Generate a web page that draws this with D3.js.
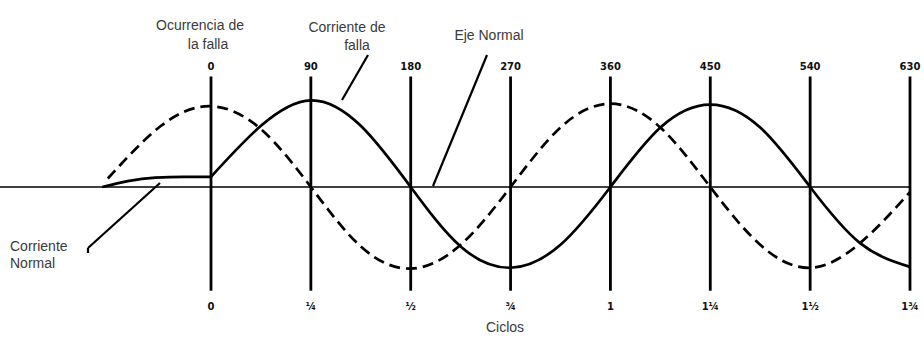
<!DOCTYPE html>
<html>
<head>
<meta charset="utf-8">
<script src="https://cdn.jsdelivr.net/npm/d3@7"></script>
<style>
  html, body { margin: 0; padding: 0; background: #fff; }
  svg { display: block; }
  .note { font-family: 'Liberation Sans', Arial, sans-serif; font-size: 14px; fill: #3a3a3a; }
  .tick { font-family: 'DejaVu Sans', sans-serif; font-size: 10px; font-weight: bold; fill: #111; }
</style>
</head>
<body>
<div id="chart"></div>
<script>
// electrical degrees at each vertical line, and the cycle count under it
const angleTicks = [0, 90, 180, 270, 360, 450, 540, 630]
const cycleLabels = ['0', '¼', '½', '¾', '1', '1¼', '1½', '1¾']

// fault current (solid), every 45°
const faultAngles = [0, 45, 90, 135, 180, 225, 270, 315, 360, 405, 450, 495, 540, 585, 630]
const faultCurrent = [0.12, 0.72, 1.02, 0.72, 0, -0.7, -0.95, -0.68, 0, 0.7, 0.97, 0.7, 0, -0.66, -0.94]

// dashed wave, a quarter cycle ahead
const dashAngles = [-93, -45, 0, 45, 90, 135, 180, 225, 270, 315, 360, 405, 450, 495, 540, 585, 630]
const dashWave = [0.1, 0.72, 0.95, 0.68, 0, -0.7, -0.96, -0.68, 0, 0.7, 0.98, 0.7, 0, -0.68, -0.95, -0.66, -0.06]

// normal current before the fault
const normalAngles = [-98, -75, -50, -25, 0]
const normalCurrent = [0, 0.07, 0.11, 0.12, 0.12]

const width = 924
const height = 337

const x = d3.scaleLinear().domain([0, 630]).range([211, 910])
const y = d3.scaleLinear().domain([-1, 1]).range([272, 102])

const svg = d3.select('#chart').append('svg')
  .attr('width', width)
  .attr('height', height)
  .attr('viewBox', `0 0 ${width} ${height}`)

// vertical lines at each quarter cycle
svg.append('g').selectAll('line')
  .data(angleTicks)
  .join('line')
  .attr('x1', (d) => x(d)).attr('x2', (d) => x(d))
  .attr('y1', y(1.3)).attr('y2', y(-1.22))
  .attr('stroke', '#000')
  .attr('stroke-width', 2.8)

svg.append('g').selectAll('text')
  .data(angleTicks)
  .join('text')
  .attr('class', 'tick')
  .attr('x', (d) => x(d))
  .attr('y', 70)
  .attr('text-anchor', 'middle')
  .text((d) => d)

svg.append('g').selectAll('text')
  .data(angleTicks)
  .join('text')
  .attr('class', 'tick')
  .attr('x', (d) => x(d))
  .attr('y', 310)
  .attr('text-anchor', 'middle')
  .text((d, i) => cycleLabels[i])

// normal axis
svg.append('line')
  .attr('x1', x(-195)).attr('x2', x(630))
  .attr('y1', y(0)).attr('y2', y(0))
  .attr('stroke', '#000')
  .attr('stroke-width', 1.7)

const line = d3.line()
  .x((d) => x(d[0]))
  .y((d) => y(d[1]))

svg.append('path')
  .datum(d3.zip(dashAngles, dashWave))
  .attr('d', line.curve(d3.curveNatural))
  .attr('fill', 'none')
  .attr('stroke', '#000')
  .attr('stroke-width', 2.7)
  .attr('stroke-dasharray', '11 6')

svg.append('path')
  .datum(d3.zip(normalAngles, normalCurrent))
  .attr('d', line.curve(d3.curveMonotoneX))
  .attr('fill', 'none')
  .attr('stroke', '#000')
  .attr('stroke-width', 2.7)

svg.append('path')
  .datum(d3.zip(faultAngles, faultCurrent))
  .attr('d', line.curve(d3.curveNatural))
  .attr('fill', 'none')
  .attr('stroke', '#000')
  .attr('stroke-width', 2.7)

// annotations and leader lines
const leaders = [
  [368, 55, 342, 100],
  [487, 55, 433, 186],
  [88, 248, 160, 183],
  [88, 248, 88, 253]
]
svg.append('g').selectAll('line')
  .data(leaders)
  .join('line')
  .attr('x1', (d) => d[0]).attr('y1', (d) => d[1])
  .attr('x2', (d) => d[2]).attr('y2', (d) => d[3])
  .attr('stroke', '#000')
  .attr('stroke-width', 2.2)

const notes = [
  ['Ocurrencia de', 200, 30, 'middle'],
  ['la falla', 208, 49, 'middle'],
  ['Corriente de', 347, 32, 'middle'],
  ['falla', 357, 50, 'middle'],
  ['Eje Normal', 489, 40, 'middle'],
  ['Corriente', 10, 251, 'start'],
  ['Normal', 10, 268, 'start'],
  ['Ciclos', 505, 332, 'middle']
]
svg.append('g').selectAll('text')
  .data(notes)
  .join('text')
  .attr('class', 'note')
  .attr('x', (d) => d[1])
  .attr('y', (d) => d[2])
  .attr('text-anchor', (d) => d[3])
  .text((d) => d[0])
</script>
</body>
</html>
